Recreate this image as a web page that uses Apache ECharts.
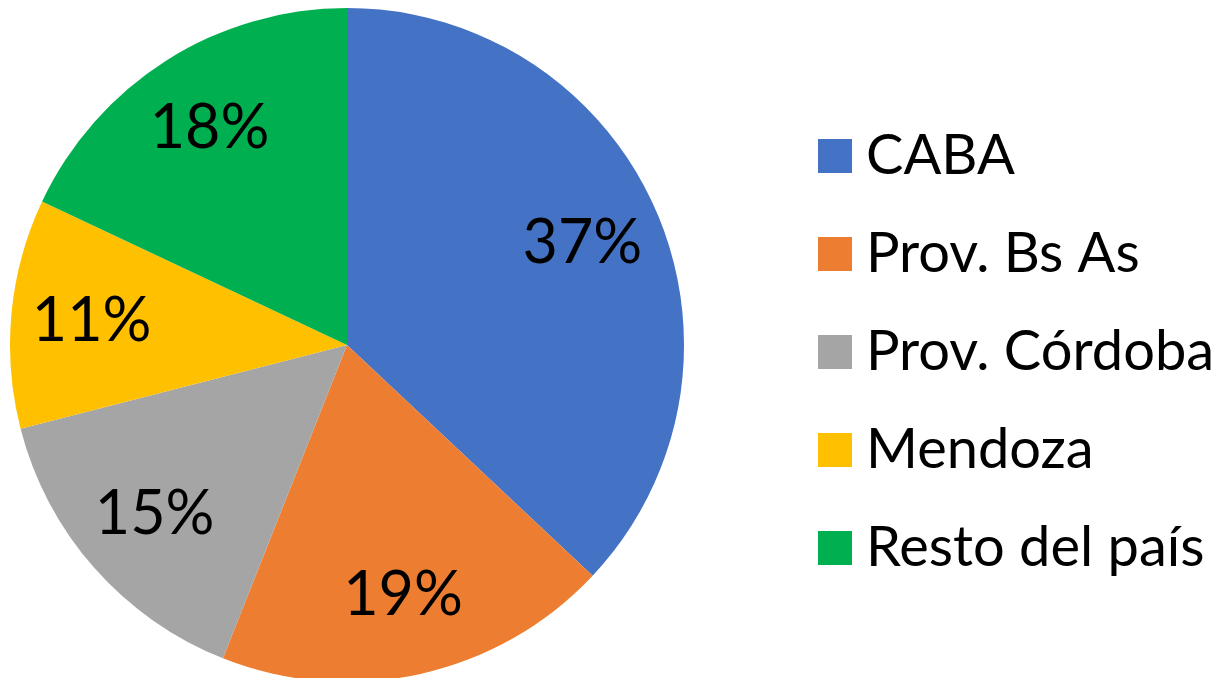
<!DOCTYPE html>
<html>
<head>
<meta charset="utf-8">
<script src="https://cdn.jsdelivr.net/npm/echarts@6/dist/echarts.min.js"></script>
<style>
  html, body { margin: 0; padding: 0; background: #fff; }
  #chart { width: 1223px; height: 678px; }
</style>
</head>
<body>
<div id="chart"></div>
<script>
// 資料
var regionNames = ['CABA', 'Prov. Bs As', 'Prov. Córdoba', 'Mendoza', 'Resto del país'];
var regionShares = [37, 19, 15, 11, 18];
var sliceColors = ['#4472C4', '#ED7D31', '#A5A5A5', '#FFC000', '#00B050'];

var fontName = 'Lato';

var pieData = regionNames.map(function (name, i) {
    return { name: name, value: regionShares[i], itemStyle: { color: sliceColors[i] } };
});

var chart = echarts.init(document.getElementById('chart'));

var option = {
    animation: false,
    legend: {
        orient: 'vertical',
        left: 813,
        top: 123,
        itemWidth: 34,
        itemHeight: 34,
        itemGap: 42,
        icon: 'rect',
        data: regionNames,
        textStyle: {
            fontFamily: fontName,
            fontSize: 56,
            color: '#000',
            lineHeight: 34,
            padding: [0, 0, 0, 9]
        }
    },
    series: [
        {
            // 主圓餅
            name: 'share',
            type: 'pie',
            center: [347, 345],
            radius: [0, 337],
            startAngle: 90,
            clockwise: true,
            label: { show: false },
            labelLine: { show: false },
            itemStyle: { borderWidth: 0 },
            emphasis: { disabled: true },
            data: pieData
        },
        {
            // 標籤層（透明），讓標籤落在約 0.76 半徑處
            name: 'labels',
            type: 'pie',
            center: [347, 345],
            radius: [170, 337],
            startAngle: 90,
            clockwise: true,
            silent: true,
            legendHoverLink: false,
            itemStyle: { color: 'rgba(0,0,0,0)', borderWidth: 0 },
            label: {
                show: true,
                position: 'inside',
                formatter: '{c}%',
                fontFamily: fontName,
                fontSize: 61,
                color: '#000'
            },
            labelLine: { show: false },
            emphasis: { disabled: true },
            data: regionNames.map(function (name, i) {
                return { name: name, value: regionShares[i] };
            })
        }
    ]
};

chart.setOption(option);
</script>
</body>
</html>
